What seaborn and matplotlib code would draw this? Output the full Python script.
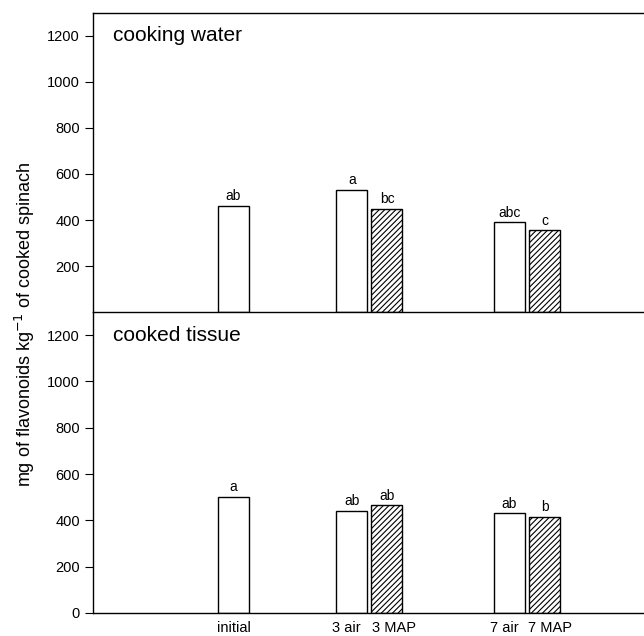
import numpy as np
import pandas as pd
import seaborn as sns
import matplotlib.pyplot as plt

# bar values (mg flavonoids / kg cooked spinach)
treatments = ['initial', '3 air', '3 MAP', '7 air', '7 MAP']
water_vals = [460, 530, 450, 390, 355]
water_letters = ['ab', 'a', 'bc', 'abc', 'c']
tissue_vals = [500, 440, 465, 430, 415]
tissue_letters = ['a', 'ab', 'ab', 'ab', 'b']
hatched = [False, False, True, False, True]

# horizontal layout of the bars (axis units ~ pixels)
xpos = [140.5, 259, 294, 416.5, 451.5]
label_shift = [0, -6, 7, -5, 6]

sns.set_style("ticks")
plt.rcParams['font.family'] = ['Liberation Sans', 'DejaVu Sans']
plt.rcParams['hatch.linewidth'] = 0.8
plt.rcParams['text.color'] = 'black'

fig = plt.figure(figsize=(6.44, 6.36), dpi=100)
ax1 = fig.add_axes([0.1444, 0.5094, 0.8556, 0.4702])
ax2 = fig.add_axes([0.1444, 0.0362, 0.8556, 0.4732])
ax2.patch.set_alpha(0)


def panel(ax, vals, letters, title):
    d = pd.DataFrame({'x': xpos, 'y': vals, 't': treatments})
    sns.barplot(data=d, x='x', y='y', native_scale=True, width=31 / 35,
                color='white', edgecolor='black', linewidth=1.0,
                errorbar=None, ax=ax)
    for p, h in zip(ax.patches, hatched):
        if h:
            p.set_hatch('//////')
    for x, v, l in zip(xpos, vals, letters):
        ax.text(x, v + 12, l, ha='center', va='bottom', fontsize=10)
    ax.set_xlim(0, 551)
    ax.set_ylim(0, 1300)
    ax.set_xlabel('')
    ax.set_ylabel('')
    ax.text(20, 1200, title, ha='left', va='center', fontsize=15)
    ax.spines['right'].set_visible(False)
    ax.tick_params(axis='both', direction='out', length=6, labelsize=10.5,
                   colors='black')
    for s in ax.spines.values():
        s.set_linewidth(1.0)
        s.set_color('black')


panel(ax1, water_vals, water_letters, 'cooking water')
panel(ax2, tissue_vals, tissue_letters, 'cooked tissue')

ax1.set_yticks([200, 400, 600, 800, 1000, 1200])
ax1.set_xticks([])
ax2.set_yticks([0, 200, 400, 600, 800, 1000, 1200])
ax2.set_xticks([x + s for x, s in zip(xpos, label_shift)])
ax2.set_xticklabels(treatments, fontsize=10.5)
ax2.tick_params(axis='x', length=0, pad=6)
ax2.spines['top'].set_visible(False)

fig.text(0.039, 0.49, 'mg of flavonoids kg$^{-1}$ of cooked spinach',
         rotation=90, ha='center', va='center', fontsize=13)

plt.savefig('out.png', dpi=100)
